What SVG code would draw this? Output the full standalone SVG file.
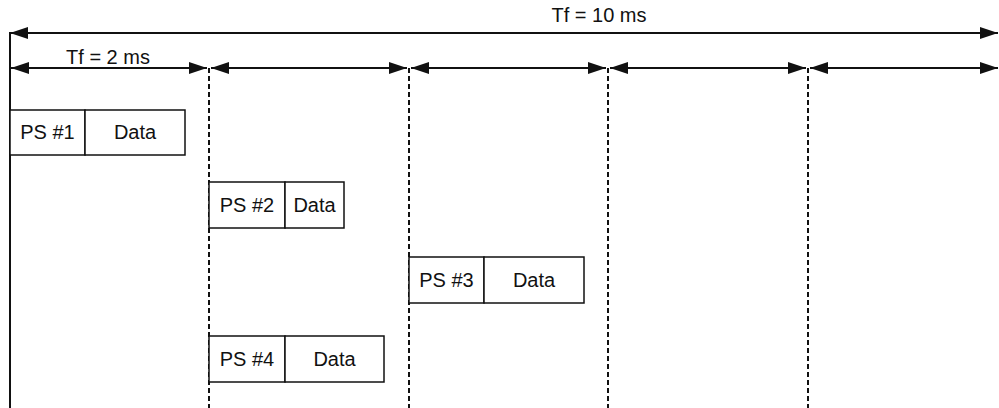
<svg xmlns="http://www.w3.org/2000/svg" width="999" height="408" viewBox="0 0 999 408">
<style>
.t{font-family:"Liberation Sans",Arial,sans-serif;font-size:20px;fill:#111;text-anchor:middle}
.box{fill:#fff;stroke:#111;stroke-width:1.5}
.arr{stroke:#111;stroke-width:2;fill:none}
.dash{stroke:#111;stroke-width:2;stroke-dasharray:5,3;fill:none}
</style>
<defs>
<marker id="ah" markerUnits="userSpaceOnUse" markerWidth="18" markerHeight="12" refX="18" refY="6" orient="auto-start-reverse">
<path d="M0,0 L18,6 L0,12 z" fill="#111"/>
</marker>
</defs>
<g id="connectors">
<line x1="10" y1="32" x2="10" y2="408" stroke="#111" stroke-width="2"/>
<line class="arr" x1="10" y1="33" x2="998" y2="33" marker-start="url(#ah)" marker-end="url(#ah)"/>
<line class="arr" x1="11" y1="68" x2="207" y2="68" marker-start="url(#ah)" marker-end="url(#ah)"/>
<line class="arr" x1="211" y1="68" x2="407" y2="68" marker-start="url(#ah)" marker-end="url(#ah)"/>
<line class="arr" x1="411" y1="68" x2="606" y2="68" marker-start="url(#ah)" marker-end="url(#ah)"/>
<line class="arr" x1="610" y1="68" x2="806" y2="68" marker-start="url(#ah)" marker-end="url(#ah)"/>
<line class="arr" x1="810" y1="68" x2="998" y2="68" marker-start="url(#ah)" marker-end="url(#ah)"/>
<line class="dash" x1="209" y1="68" x2="209" y2="408"/>
<line class="dash" x1="409" y1="68" x2="409" y2="408"/>
<line class="dash" x1="608" y1="68" x2="608" y2="408"/>
<line class="dash" x1="808" y1="68" x2="808" y2="408"/>
<text class="t" x="599" y="22">Tf = 10 ms</text>
<text class="t" x="108" y="64">Tf = 2 ms</text>
</g>
<g id="ps1">
<rect class="box" x="10" y="110" width="75" height="45"/>
<rect class="box" x="85" y="110" width="100" height="45"/>
<text class="t" x="47.5" y="139">PS #1</text>
<text class="t" x="135" y="139">Data</text>
</g>
<g id="ps2">
<rect class="box" x="209" y="182" width="76" height="46"/>
<rect class="box" x="285" y="182" width="59" height="46"/>
<text class="t" x="247" y="212">PS #2</text>
<text class="t" x="314.5" y="212">Data</text>
</g>
<g id="ps3">
<rect class="box" x="409" y="257" width="75" height="46"/>
<rect class="box" x="484" y="257" width="100" height="46"/>
<text class="t" x="446.5" y="287">PS #3</text>
<text class="t" x="534" y="287">Data</text>
</g>
<g id="ps4">
<rect class="box" x="209" y="336" width="76" height="46"/>
<rect class="box" x="285" y="336" width="99" height="46"/>
<text class="t" x="247" y="366">PS #4</text>
<text class="t" x="334.5" y="366">Data</text>
</g>
</svg>
